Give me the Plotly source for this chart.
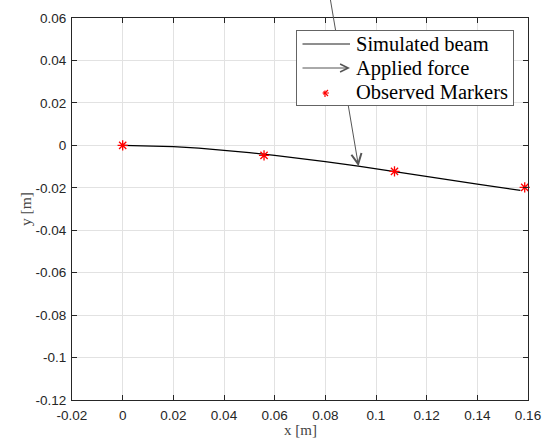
import plotly.graph_objects as go

W, H = 551, 439

# ---- data ----
beam_x = [0, 0.01, 0.02, 0.03, 0.04, 0.05, 0.06, 0.07, 0.08, 0.093, 0.107, 0.12, 0.14, 0.157]
beam_y = [0, -0.00017, -0.0006, -0.0013, -0.0023, -0.0034, -0.0047, -0.0061, -0.0077,
          -0.0098, -0.0124, -0.0148, -0.0183, -0.0212]
marker_x = [0, 0.0558, 0.1073, 0.1587]
marker_y = [0, -0.0047, -0.0123, -0.0198]
force_tail = [0.0811, 0.075]
force_tip = [0.0931, -0.0098]

x_ticks = [-0.02, 0, 0.02, 0.04, 0.06, 0.08, 0.1, 0.12, 0.14, 0.16]
x_ticktext = ['-0.02', '0', '0.02', '0.04', '0.06', '0.08', '0.1', '0.12', '0.14', '0.16']
y_ticks = [-0.12, -0.1, -0.08, -0.06, -0.04, -0.02, 0, 0.02, 0.04, 0.06]
y_ticktext = ['-0.12', '-0.1', '-0.08', '-0.06', '-0.04', '-0.02', '0', '0.02', '0.04', '0.06']
legend_labels = ['Simulated beam', 'Applied force', 'Observed Markers']
x_title = 'x [m]'
y_title = 'y [m]'

# ---- layout geometry (pixels) ----
PL, PR, PT, PB = 72, 528, 18, 400
AX = 'rgb(38,38,38)'
GRID = 'rgb(226,226,226)'
ARROW = 'rgb(85,85,85)'
RED = 'rgb(255,0,0)'
SERIF = 'Liberation Serif, Times New Roman, serif'
SANS = 'Liberation Sans, Arial, sans-serif'


def fx(p):
    return p / W


def fy(p):
    return 1 - p / H


fig = go.Figure()
fig.add_trace(go.Scatter(x=beam_x, y=beam_y, mode='lines',
                         line=dict(color='black', width=1.2), showlegend=False))
fig.add_trace(go.Scatter(x=marker_x, y=marker_y, mode='markers', cliponaxis=False,
                         marker=dict(symbol='asterisk-open', size=8.5, color=RED,
                                     line=dict(color=RED, width=1.3)),
                         showlegend=False))

axis_common = dict(showline=True, linecolor=AX, linewidth=1, mirror='ticks',
                   ticks='inside', ticklen=5, tickcolor=AX, tickwidth=1,
                   showgrid=True, gridcolor=GRID, gridwidth=1, zeroline=False,
                   automargin=False,
                   tickfont=dict(family=SANS, size=13.5, color=AX))

fig.update_layout(
    template='none',
    width=W, height=H,
    margin=dict(l=0, r=0, t=0, b=0, autoexpand=False),
    paper_bgcolor='white', plot_bgcolor='rgba(0,0,0,0)',
    showlegend=False,
    xaxis=dict(domain=[fx(PL), fx(PR)], range=[-0.02, 0.16], tickmode='array',
               tickvals=x_ticks, ticktext=x_ticktext, ticklabelstandoff=3, **axis_common),
    yaxis=dict(domain=[fy(PB), fy(PT)], range=[-0.12, 0.06], tickmode='array',
               tickvals=y_ticks, ticktext=y_ticktext, ticklabelstandoff=2, **axis_common),
)

ann = []
# applied force arrow (data space)
ann.append(dict(x=force_tip[0], y=force_tip[1], xref='x', yref='y',
                ax=force_tail[0], ay=force_tail[1], axref='x', ayref='y',
                text='', showarrow=True, arrowhead=5, arrowsize=2.0, arrowwidth=1,
                arrowcolor=ARROW, standoff=0))
# axis titles
ann.append(dict(x=fx((PL + PR) / 2), y=fy(439), xref='paper', yref='paper', text=x_title,
                showarrow=False, xanchor='center', yanchor='bottom', borderpad=0,
                font=dict(family=SERIF, size=15, color='rgb(70,70,70)')))
ann.append(dict(x=fx(25), y=fy((PT + PB) / 2), xref='paper', yref='paper', text=y_title,
                showarrow=False, xanchor='center', yanchor='middle', textangle=-90,
                font=dict(family=SERIF, size=15.5, color='rgb(70,70,70)')))
# legend box
ann.append(dict(x=fx(296), y=fy(30), xref='paper', yref='paper', text=' ',
                showarrow=False, xanchor='left', yanchor='top', width=216, height=74,
                bgcolor='white', bordercolor='rgb(100,100,100)', borderwidth=1, borderpad=0))
# legend samples
ann.append(dict(x=fx(350), y=fy(44), xref='paper', yref='paper', text='', showarrow=True,
                ax=-49, ay=0, arrowhead=0, arrowwidth=1, arrowcolor='rgb(30,30,30)', standoff=0))
ann.append(dict(x=fx(350), y=fy(68), xref='paper', yref='paper', text='', showarrow=True,
                ax=-49, ay=0, arrowhead=5, arrowsize=1.6, arrowwidth=1, arrowcolor=ARROW,
                standoff=0))
cx, cy = 325, 93
for dx, dy in [(4, 0), (0, 4), (3, 3), (3, -3)]:
    ann.append(dict(x=fx(cx + dx), y=fy(cy + dy), xref='paper', yref='paper', text='',
                    showarrow=True, ax=-2 * dx, ay=-2 * dy, arrowhead=0, arrowwidth=1.2,
                    arrowcolor=RED, standoff=0))
# legend labels
for i, lab in enumerate(legend_labels):
    ann.append(dict(x=fx(354), y=fy(44 + 24 * i), xref='paper', yref='paper', text=lab,
                    showarrow=False, xanchor='left', yanchor='middle',
                    font=dict(family=SERIF, size=20.5, color='black')))

fig.update_layout(annotations=ann)
fig.write_html('out.html')
